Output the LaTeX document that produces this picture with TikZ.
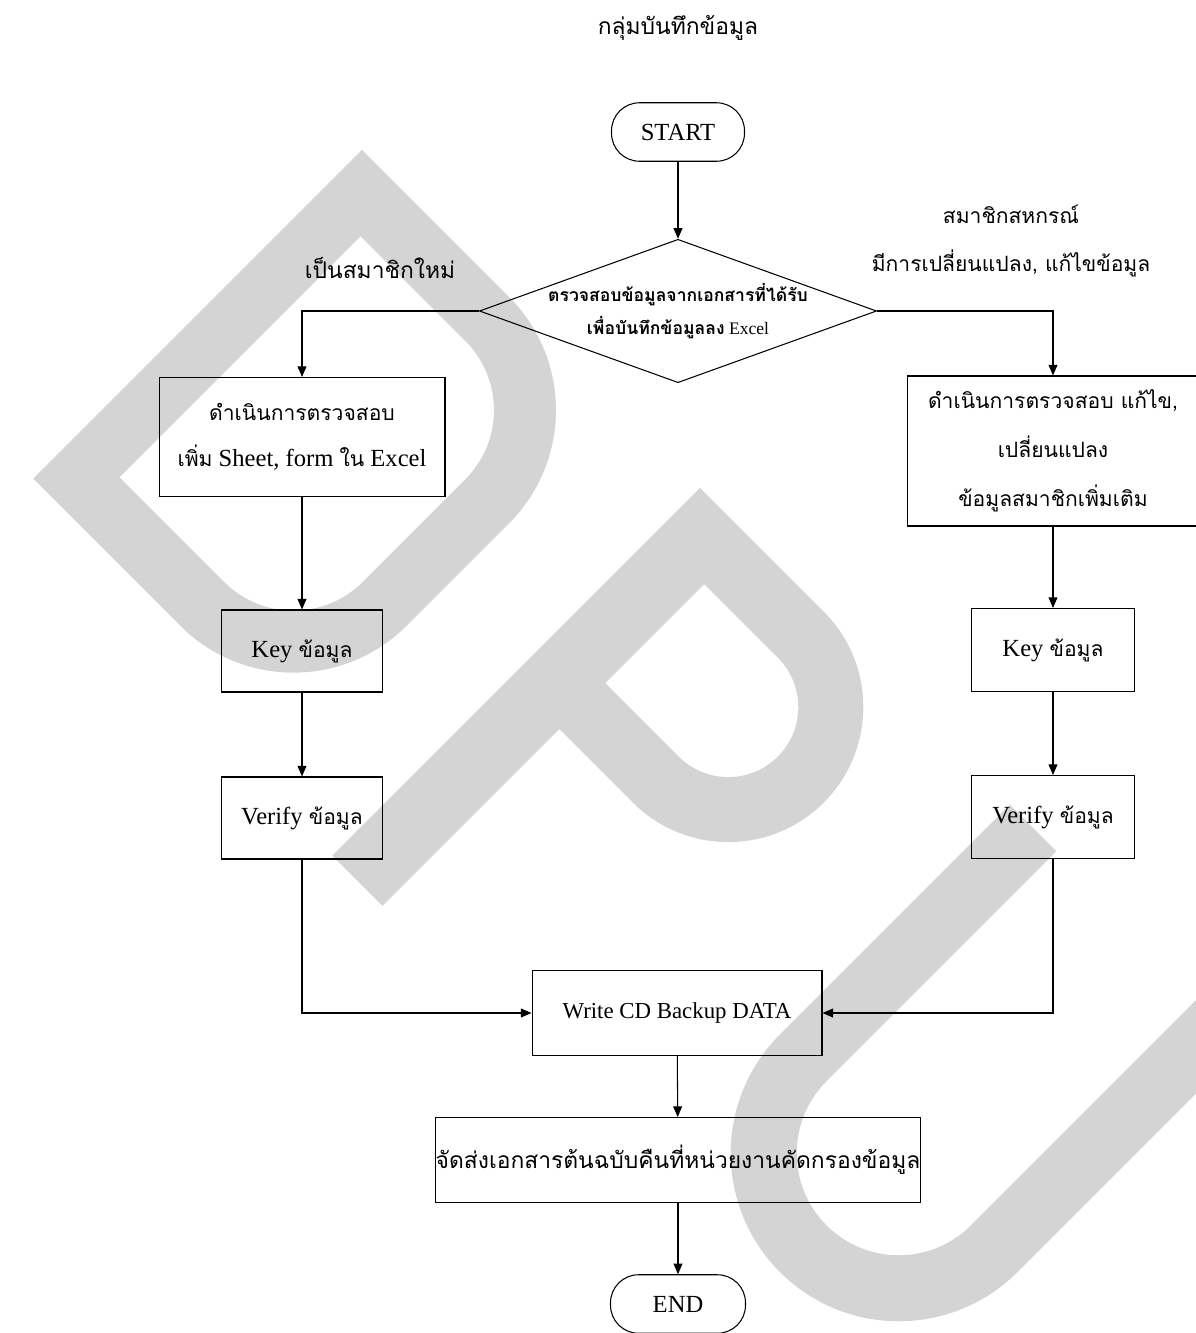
\documentclass[tikz,border=0pt]{standalone}
\usepackage{fontspec}
\setmainfont{Liberation Serif}
\newfontfamily\thai[Script=Thai]{Loma}
\usetikzlibrary{shapes.geometric,arrows.meta}
\definecolor{wmgray}{RGB}{212,212,212}

\begin{document}
\begin{tikzpicture}[x=0.02cm, y=-0.02cm, line width=0.6pt,
    box/.style={draw, rectangle, align=center, inner sep=0pt, font=\fontsize{14}{26}\selectfont},
    term/.style={draw, rectangle, rounded corners=0.56cm, minimum width=2.66cm, minimum height=1.17cm, font=\fontsize{14}{16}\selectfont},
    arr/.style={-{Triangle[length=6pt,width=5pt]}}]
        \useasboundingbox (0,0) rectangle (1196,1333);

        % watermark, letters along the diagonal
        \begin{scope}[x={(0.014142cm,0.014142cm)}, y={(0.014142cm,-0.014142cm)}]
        \fill [fill=wmgray, even odd rule] (-315,362) -- (150,362) -- (150,570) arc[start angle=0, end angle=90, radius=160]
              -- (-155,730) arc[start angle=90, end angle=180, radius=160] -- cycle
              (-253,422) -- (88,422) -- (88,570) arc[start angle=0, end angle=90, radius=98]
              -- (-155,668) arc[start angle=90, end angle=180, radius=98] -- cycle;
        \fill [fill=wmgray, even odd rule] (-370,840) -- (150,840) -- (150,1015) arc[start angle=0, end angle=180, radius=135]
              -- (-120,911) -- (-370,911) -- cycle
              (85,911) -- (85,1015) arc[start angle=0, end angle=180, radius=70] -- (-55,911) -- cycle;
        \fill [fill=wmgray] (145,1283) -- (-180,1283) arc[start angle=270, end angle=90, radius=168]
              -- (145,1619) -- (145,1553) -- (-180,1553) arc[start angle=90, end angle=270, radius=102]
              -- (145,1349) -- cycle;
        \end{scope}

        % headings
        \node (title) at (678,28) {\thai\fontsize{13}{16}\selectfont กลุ่มบันทึกข้อมูล};
        \node (newlbl) at (380,268) {\thai\fontsize{13}{16}\selectfont เป็นสมาชิกใหม่};
        \node[align=center, font=\fontsize{12}{27}\selectfont] (updlbl) at (1011,241)
              {{\thai\fontsize{12}{27}\selectfont สมาชิกสหกรณ์}\\{\thai\fontsize{12}{27}\selectfont มีการเปลี่ยนแปลง, แก้ไขข้อมูล}};

        % flow
        \node[term] (start) at (678,132) {START};
        \node[draw, diamond, aspect=2.77, inner ysep=0pt, inner xsep=-0.17cm, minimum width=7.92cm, minimum height=2.86cm,
              align=center, font=\fontsize{10}{19}\selectfont] (check) at (678,311)
              {{\thai\bfseries ตรวจสอบข้อมูลจากเอกสารที่ได้รับ}\\{\thai\bfseries เพื่อบันทึกข้อมูลลง} Excel};

        \node[box, minimum width=5.72cm, minimum height=2.38cm] (chkL) at (302,437)
              {{\thai\fontsize{12}{26}\selectfont ดำเนินการตรวจสอบ}\\{\thai\fontsize{12}{26}\selectfont เพิ่ม} Sheet, form {\thai\fontsize{12}{26}\selectfont ใน} Excel};
        \node[box, minimum width=5.84cm, minimum height=3cm, font=\fontsize{12}{28}\selectfont] (chkR) at (1053,451)
              {{\thai\fontsize{12}{28}\selectfont ดำเนินการตรวจสอบ แก้ไข,}\\{\thai\fontsize{12}{28}\selectfont เปลี่ยนแปลง}\\{\thai\fontsize{12}{28}\selectfont ข้อมูลสมาชิกเพิ่มเติม}};

        \node[box, minimum width=3.22cm, minimum height=1.64cm] (keyL) at (302,651) {Key {\thai\fontsize{12}{16}\selectfont ข้อมูล}};
        \node[box, minimum width=3.22cm, minimum height=1.64cm] (verL) at (302,818) {Verify {\thai\fontsize{12}{16}\selectfont ข้อมูล}};
        \node[box, minimum width=3.26cm, minimum height=1.66cm] (keyR) at (1053,650) {Key {\thai\fontsize{12}{16}\selectfont ข้อมูล}};
        \node[box, minimum width=3.26cm, minimum height=1.66cm] (verR) at (1053,817) {Verify {\thai\fontsize{12}{16}\selectfont ข้อมูล}};

        \node[box, minimum width=5.8cm, minimum height=1.7cm, font=\fontsize{13}{16}\selectfont] (write) at (677,1013) {Write CD Backup DATA};
        \node[box, minimum width=9.66cm, minimum height=1.7cm] (send) at (678,1160)
              {\thai\fontsize{13}{16}\selectfont จัดส่งเอกสารต้นฉบับคืนที่หน่วยงานคัดกรองข้อมูล};
        \node[term, minimum width=2.7cm] (stop) at (678,1304) {END};

        % connectors
        \draw[arr] (start) -- (check);
        \draw[arr] (check.west) -| (chkL.north);
        \draw[arr] (check.east) -| (chkR.north);
        \draw[arr] (chkL) -- (keyL);
        \draw[arr] (keyL) -- (verL);
        \draw[arr] (chkR) -- (keyR);
        \draw[arr] (keyR) -- (verR);
        \draw[arr] (verL.south) |- (write.west);
        \draw[arr] (verR.south) |- (write.east);
        \draw[arr] (write) -- (send);
        \draw[arr] (send) -- (stop);
\end{tikzpicture}
\end{document}
